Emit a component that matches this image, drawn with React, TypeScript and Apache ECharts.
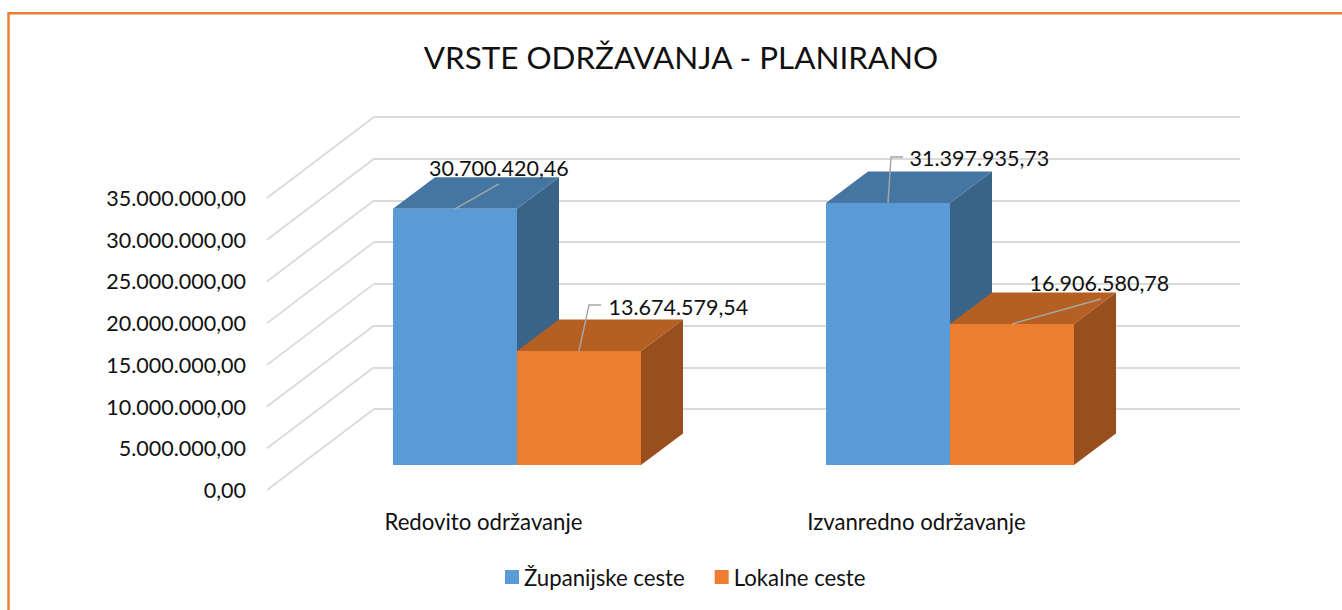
import React, { useEffect, useRef } from "react";
import * as echarts from "echarts";

const title = "VRSTE ODRŽAVANJA - PLANIRANO";
const categories = ["Redovito održavanje", "Izvanredno održavanje"];
const zupanijske = [30700420.46, 31397935.73];
const lokalne = [13674579.54, 16906580.78];
const axisTicks = [0, 5000000, 10000000, 15000000, 20000000, 25000000, 30000000, 35000000];

const FONT = "Lato";
const TEXT = "#111111";
const GRIDC = "#DADADA";
const BAR_W = 124;
const WALL = [107, -81];
const PLANE = [33.5, -25];
const DEPTH = [42, -31.5];

// leader-line layout, relative to the centre of the bar's top front edge
const zupLeaders = [
  { pts: [[0, 0], [44, -25]], tx: -26, ty: -41 },
  { pts: [[0, 0], [3, -46], [15, -46]], tx: 21.5, ty: -45 },
];
const lokLeaders = [
  { pts: [[0, 0], [10, -46], [22, -46]], tx: 29.5, ty: -44 },
  { pts: [[0, 0], [89, -25]], tx: 17.5, ty: -41 },
];

const fmt = (v: number) => {
  const [i, d] = v.toFixed(2).split(".");
  return i.replace(/\B(?=(\d{3})+(?!\d))/g, ".") + "," + d;
};

const barSeries = (
  name: string,
  values: number[],
  side: number,
  front: string,
  top: string,
  dark: string,
  leaders: { pts: number[][]; tx: number; ty: number }[]
) => ({
  type: "custom",
  name,
  xAxisIndex: 0,
  yAxisIndex: 0,
  clip: false,
  z: 5,
  itemStyle: { color: front },
  data: values.map((v, i) => [i, v]),
  renderItem: (_p: any, api: any) => {
    const cat = api.value(0);
    const val = api.value(1);
    const base = api.coord([cat, 0]);
    const head = api.coord([cat, val]);
    const x0 = base[0] + PLANE[0] + (side < 0 ? -BAR_W : 0);
    const x1 = x0 + BAR_W;
    const yb = base[1] + PLANE[1];
    const yt = head[1] + PLANE[1];
    const [dx, dy] = DEPTH;
    const poly = (points: number[][], fill: string) => ({
      type: "polygon",
      shape: { points },
      style: { fill },
    });
    const cx = (x0 + x1) / 2;
    const l = leaders[cat];
    return {
      type: "group",
      children: [
        poly([[x1, yb], [x1 + dx, yb + dy], [x1 + dx, yt + dy], [x1, yt]], dark),
        poly([[x0, yt], [x1, yt], [x1 + dx, yt + dy], [x0 + dx, yt + dy]], top),
        poly([[x0, yb], [x1, yb], [x1, yt], [x0, yt]], front),
        {
          type: "polyline",
          shape: { points: l.pts.map((p) => [cx + p[0], yt + p[1]]) },
          style: { stroke: "#A6A6A6", lineWidth: 1.5, fill: "none" },
        },
        {
          type: "text",
          x: cx + l.tx,
          y: yt + l.ty,
          style: {
            text: fmt(val),
            font: `21.5px ${FONT}`,
            fill: TEXT,
            textAlign: "left",
            textVerticalAlign: "middle",
          },
        },
      ],
    };
  },
});

export default function App() {
  const ref = useRef<HTMLDivElement>(null);
  useEffect(() => {
    document.body.style.margin = "0";
    document.body.style.overflow = "hidden";
    const chart = echarts.init(ref.current!, null, { renderer: "svg" });
    chart.setOption({
      animation: false,
      backgroundColor: "#ffffff",
      title: {
        text: title,
        left: 676,
        top: 36,
        textAlign: "center",
        textStyle: { fontFamily: FONT, fontSize: 31.4, fontWeight: "normal", color: TEXT },
      },
      grid: [
        { left: 267, top: 198, width: 866, height: 292 },
        { left: 374, top: 117, width: 866, height: 292 },
      ],
      xAxis: [
        {
          type: "category",
          gridIndex: 0,
          data: categories,
          axisLine: { show: false },
          axisTick: { show: false },
          axisLabel: { fontFamily: FONT, fontSize: 22.2, color: TEXT, margin: 20 },
        },
        { type: "category", gridIndex: 1, data: categories, show: false },
      ],
      yAxis: [
        {
          type: "value",
          gridIndex: 0,
          min: 0,
          max: 35000000,
          interval: 5000000,
          axisLine: { show: false },
          axisTick: { show: false },
          splitLine: { show: false },
          axisLabel: {
            fontFamily: FONT,
            fontSize: 21.5,
            color: TEXT,
            margin: 21,
            formatter: (v: number) => fmt(v),
          },
        },
        {
          type: "value",
          gridIndex: 1,
          min: 0,
          max: 35000000,
          interval: 5000000,
          axisLine: { show: false },
          axisTick: { show: false },
          axisLabel: { show: false },
          splitLine: { show: true, lineStyle: { color: GRIDC, width: 2 } },
        },
      ],
      legend: {
        left: 500,
        top: 561,
        itemWidth: 14,
        itemHeight: 14,
        itemGap: 30,
        icon: "rect",
        data: ["Županijske ceste", "Lokalne ceste"],
        textStyle: { fontFamily: FONT, fontSize: 22.2, color: TEXT },
      },
      graphic: [
        {
          type: "polyline",
          silent: true,
          shape: { points: [[8.5, 610], [8.5, 13.3], [1342, 13.3]] },
          style: { stroke: "#ED7D31", lineWidth: 2.4, fill: "none" },
        },
      ],
      series: [
        {
          type: "custom",
          name: "wall",
          xAxisIndex: 0,
          yAxisIndex: 0,
          clip: false,
          silent: true,
          z: 1,
          data: axisTicks.map((v) => [0, v]),
          renderItem: (p: any, api: any) => {
            const y = api.coord([0, api.value(1)])[1];
            const x = p.coordSys.x;
            return {
              type: "line",
              shape: { x1: x, y1: y, x2: x + WALL[0], y2: y + WALL[1] },
              style: { stroke: GRIDC, lineWidth: 1.8 },
            };
          },
        },
        barSeries("Županijske ceste", zupanijske, -1, "#5B9BD5", "#4575A1", "#3A6487", zupLeaders),
        barSeries("Lokalne ceste", lokalne, 1, "#ED7D31", "#B55F22", "#994F1D", lokLeaders),
      ],
    });
    return () => chart.dispose();
  }, []);
  return <div ref={ref} style={{ width: 1342, height: 610 }} />;
}
